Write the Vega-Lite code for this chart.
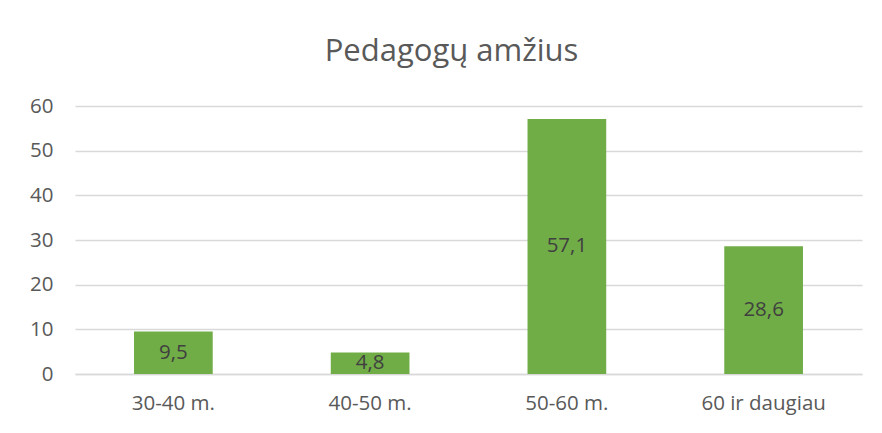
{
  "$schema": "https://vega.github.io/schema/vega-lite/v6.json",
  "width": 787,
  "height": 268,
  "autosize": {"type": "none"},
  "padding": {"left": 75, "top": 106, "right": 20, "bottom": 59},
  "background": "white",
  "config": {
    "view": {"stroke": null},
    "font": "Open Sans",
    "locale": {"number": {"decimal": ",", "thousands": " ", "grouping": [3], "currency": ["", " €"]}}
  },
  "title": {
    "text": "Pedagogų amžius",
    "fontSize": 31,
    "fontWeight": "normal",
    "color": "#595959",
    "font": "Open Sans",
    "offset": 28,
    "dx": -17
  },
  "data": {
    "values": [
      {"category": "30-40 m.", "value": 9.5},
      {"category": "40-50 m.", "value": 4.8},
      {"category": "50-60 m.", "value": 57.1},
      {"category": "60 ir daugiau", "value": 28.6}
    ]
  },
  "transform": [{"calculate": "datum.value / 2", "as": "mid"}],
  "layer": [
    {
      "mark": {"type": "bar", "color": "#70AD47"},
      "encoding": {
        "x": {
          "field": "category",
          "type": "nominal",
          "sort": null,
          "scale": {"paddingInner": 0.6, "paddingOuter": 0.3},
          "axis": {
            "title": null,
            "labelAngle": 0,
            "labelFontSize": 20.5,
            "labelColor": "#595959",
            "labelPadding": 19,
            "ticks": false,
            "domainColor": "#D9D9D9",
            "domainWidth": 1.5
          }
        },
        "y": {
          "field": "value",
          "type": "quantitative",
          "scale": {"domain": [0, 60]},
          "axis": {
            "title": null,
            "values": [0, 10, 20, 30, 40, 50, 60],
            "labelFontSize": 20.5,
            "labelColor": "#595959",
            "labelPadding": 22,
            "ticks": false,
            "domain": false,
            "gridColor": "#D9D9D9",
            "gridWidth": 1.5
          }
        }
      }
    },
    {
      "mark": {"type": "text", "fontSize": 20.5, "color": "#404040", "baseline": "middle"},
      "encoding": {
        "x": {"field": "category", "type": "nominal", "sort": null},
        "y": {"field": "mid", "type": "quantitative"},
        "text": {"field": "value", "type": "quantitative", "format": ".1f"}
      }
    }
  ]
}
